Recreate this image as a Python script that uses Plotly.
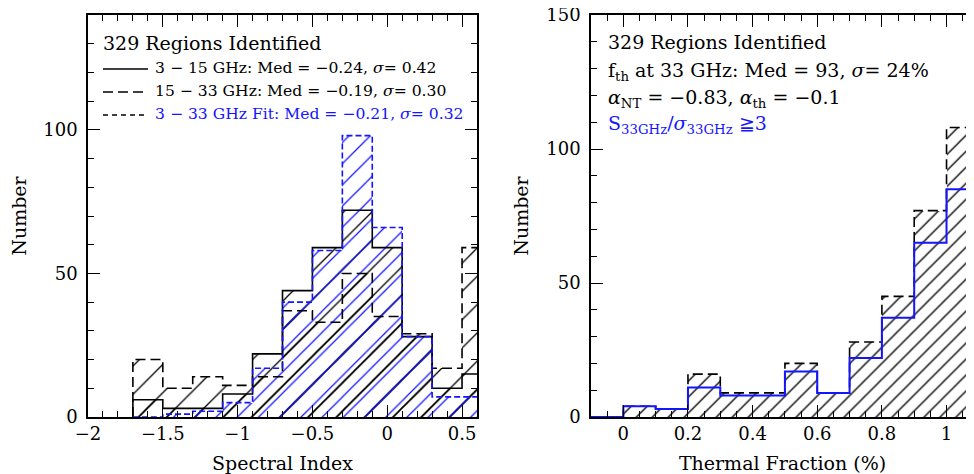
import plotly.graph_objects as go
import numpy as np

# ---------------- data ----------------
# Left panel: spectral index histograms (bin width 0.2)
si_edges = [-1.7, -1.5, -1.3, -1.1, -0.9, -0.7, -0.5, -0.3, -0.1, 0.1, 0.3, 0.5, 0.7]
si_3_15 = [6, 3, 3, 8, 22, 44, 59, 72, 59, 28, 10, 15]
si_15_33 = [20, 10, 14, 11, 14, 37, 33, 50, 35, 29, 17, 59]
si_fit = [0, 1, 2, 5, 17, 40, 58, 98, 66, 28, 7, 7]

# Right panel: thermal fraction histograms (bin width 0.1)
tf_edges = [-0.1, 0.0, 0.1, 0.2, 0.3, 0.4, 0.5, 0.6, 0.7, 0.8, 0.9, 1.0, 1.1]
tf_all = [0, 4, 3, 16, 9, 9, 20, 9, 28, 45, 77, 108]
tf_snr3 = [0, 4, 3, 11, 8, 8, 17, 9, 22, 37, 65, 85]

FONT = "DejaVu Serif"
BLUE = "#1414ff"

# page body has an 8px margin: the figure is placed at (8, 8) in the window
OFF = 8
W, H = 974 - OFF, 474 - OFF
ML, MR, MT, MB = 88 - OFF, 0, 15 - OFF, 474 - 417
PW = W - ML - MR
PH = H - MT - MB


def px2dom(px):
    return (px - OFF - ML) / PW


def step_xy(edges, vals):
    xs = [edges[0]] + list(edges[:-1]) + [edges[-1]]
    ys = [0] + list(vals) + [0]
    return xs, ys


def centers(edges):
    e = np.array(edges, dtype=float)
    return (e[:-1] + e[1:]) / 2, np.diff(e)


fig = go.Figure()


def hatch(edges, vals, color, size, sol, xa, ya, name):
    c, w = centers(edges)
    fig.add_trace(go.Bar(
        x=c, y=vals, width=w, xaxis=xa, yaxis=ya, name=name, showlegend=False,
        marker=dict(color="rgba(0,0,0,0)", line=dict(width=0),
                    pattern=dict(shape="/", fgcolor=color, bgcolor="rgba(0,0,0,0)",
                                 size=size, solidity=sol, fillmode="replace")),
        hoverinfo="skip"))


# ---------- hatch fills (left) ----------
hatch(si_edges, si_15_33, "black", 20, 0.065, "x", "y", "15-33 hatch")
hatch(si_edges, si_3_15, "black", 20, 0.065, "x", "y", "3-15 hatch")
hatch(si_edges, si_fit, BLUE, 15, 0.085, "x", "y", "fit hatch")

# ---------- outlines (left) ----------
for vals, color, dash, wdt in [(si_15_33, "black", "10px,5px", 1.6),
                               (si_3_15, "black", "solid", 1.6),
                               (si_fit, BLUE, "6px,3px", 1.6)]:
    xs, ys = step_xy(si_edges, vals)
    fig.add_trace(go.Scatter(x=xs, y=ys, mode="lines", line_shape="hv",
                             line=dict(color=color, width=wdt, dash=dash),
                             xaxis="x", yaxis="y", showlegend=False, hoverinfo="skip"))

# ---------- right panel ----------
hatch(tf_edges, tf_all, "black", 11.3, 0.12, "x2", "y2", "all hatch")
xs, ys = step_xy(tf_edges, tf_all)
fig.add_trace(go.Scatter(x=xs, y=ys, mode="lines", line_shape="hv",
                         line=dict(color="black", width=1.6, dash="10px,5px"),
                         xaxis="x2", yaxis="y2", showlegend=False, hoverinfo="skip"))
xs, ys = step_xy(tf_edges, tf_snr3)
fig.add_trace(go.Scatter(x=xs, y=ys, mode="lines", line_shape="hv",
                         line=dict(color=BLUE, width=2),
                         xaxis="x2", yaxis="y2", showlegend=False, hoverinfo="skip"))

tickfont = dict(family=FONT, size=18, color="black")
titlefont = dict(family=FONT, size=19, color="black")

common = dict(showgrid=False, zeroline=False, showline=True, linecolor="black", linewidth=1.5,
              ticks="inside", ticklen=12, tickwidth=1, tickcolor="black", tickfont=tickfont,
              automargin=False, ticklabeloverflow="allow")

fig.update_layout(
    width=W, height=H, margin=dict(l=ML, r=MR, t=MT, b=MB, autoexpand=False),
    paper_bgcolor="white", plot_bgcolor="white", barmode="overlay", bargap=0,
    xaxis=dict(domain=[0, px2dom(477)], range=[-2, 0.6], dtick=0.5, tick0=0,
               minor=dict(dtick=0.1, ticklen=6, ticks="inside", tickcolor="black"),
               mirror="allticks", title=dict(text="Spectral Index", font=titlefont, standoff=14),
               **common),
    yaxis=dict(domain=[0, 1], range=[0, 140], dtick=50, tick0=0, anchor="x",
               minor=dict(dtick=10, ticklen=6, ticks="inside", tickcolor="black"),
               mirror="allticks", ticklabelstandoff=5,
               title=dict(text="Number", font=titlefont, standoff=13),
               **common),
    xaxis2=dict(domain=[px2dom(591), 1], range=[-0.1, 1.085], dtick=0.2, tick0=0, anchor="y2",
                minor=dict(dtick=0.05, ticklen=6, ticks="inside", tickcolor="black"),
                mirror="allticks", title=dict(text="Thermal Fraction (%)", font=titlefont, standoff=14),
                **common),
    yaxis2=dict(domain=[0, 1], range=[0, 150], dtick=50, tick0=0, anchor="x2",
                minor=dict(dtick=10, ticklen=6, ticks="inside", tickcolor="black"),
                mirror=False, ticklabelstandoff=5,
                title=dict(text="Number", font=titlefont, standoff=13),
                **common),
)


def ann(text, xpx, ypx, size, color="black"):
    fig.add_annotation(text=text, xref="paper", yref="paper",
                       x=(xpx - OFF - ML) / PW, y=1 - (ypx - OFF - MT) / PH,
                       xanchor="left", yanchor="middle", showarrow=False,
                       font=dict(family=FONT, size=size, color=color))


def legline(x0, x1, ypx, dash, color="black"):
    yy = 1 - (ypx - OFF - MT) / PH
    fig.add_shape(type="line", xref="paper", yref="paper",
                  x0=(x0 - OFF - ML) / PW, x1=(x1 - OFF - ML) / PW, y0=yy, y1=yy,
                  line=dict(color=color, width=1.4, dash=dash))


# left panel texts (window pixel positions)
ann("329 Regions Identified", 101, 43, 19)
ann("3 − 15 GHz: Med = −0.24, <i>σ</i>= 0.42", 153, 68, 15.6)
ann("15 − 33 GHz: Med = −0.19, <i>σ</i>= 0.30", 153, 91, 15.6)
ann("3 − 33 GHz Fit: Med = −0.21, <i>σ</i>= 0.32", 153, 114, 15.6, BLUE)
legline(103, 148, 69, "solid")
legline(103, 148, 92, "10px,5px")
legline(103, 148, 115, "5px,4px")

# right panel texts
ann("329 Regions Identified", 606, 42, 19)
ann("f<sub>th</sub> at 33 GHz: Med = 93, <i>σ</i>= 24%", 606, 71, 19)
ann("<i>α</i><sub>NT</sub> = −0.83, <i>α</i><sub>th</sub> = −0.1", 606, 99, 19)
ann("S<sub>33GHz</sub>/<i>σ</i><sub>33GHz</sub> ≧3", 606, 125, 19, BLUE)

fig.write_html("out.html")
